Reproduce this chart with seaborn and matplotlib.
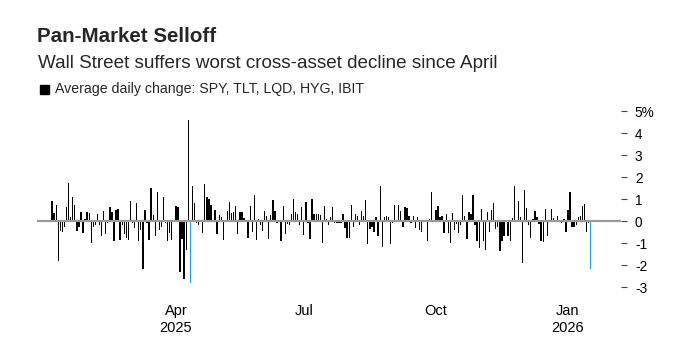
import numpy as np
import pandas as pd
import matplotlib
matplotlib.use('Agg')
import matplotlib.pyplot as plt
import seaborn as sns
from matplotlib.patches import Rectangle

# average daily % change of SPY, TLT, LQD, HYG, IBIT, one list per month (trading days)
jan25 = [0.9, 0.35, 0.75, -1.8, -0.45, -0.5, -0.25, 0.65, 1.75, 0.2, 1.1, 0.75, -0.45, -0.25, 0.4,
         -0.55, 0.1, 0.4, 0.35, -1.0]
feb25 = [-0.25, -0.2, 0.3, -0.2, -0.7, 0.45, -0.6, -0.1, 0.65, 0.4, -0.9, 0.5, 0.55, -0.85, -0.2,
         -0.6, -0.75, -0.85, 0.9]
mar25 = [-0.1, -0.3, 0.8, -0.9, -0.4, -2.2, 0.5, -0.1, -0.85, 1.5, 0.27, -0.7, 1.3, -0.4, -0.25,
         1.1, -0.07, -0.9, -0.55, -0.85, 0.05]
apr25 = [0.7, 0.65, -2.3, -0.8, -2.65, -1.3, 4.6, -2.8, 1.6, 0.8, -0.1, -0.2, 0.05, -0.55, 1.7,
         1.1, 1.0, 0.75, 0.05, 0.5, -0.6]
may25 = [0.27, 0.2, -0.85, 0.05, 0.45, 0.85, 0.35, 0.4, 0.67, -0.6, 0.4, 0.4, 0.15, 0.02, -0.75,
         0.7, -0.5, 1.2, -0.85, 0.07, -0.2]
jun25 = [-0.45, 0.45, 0.22, -0.8, 0.27, 0.95, 0.45, -0.07, 0.05, -0.9, 0.67, -0.6, -0.13, -0.18,
         0.3, 1.0, 0.4, 0.3, -0.2, 0.63]
jul25 = [-0.65, 0.85, -0.1, -0.8, 1.0, 0.3, 0.3, 0.3, 0.27, -1.0, 0.67, 0.1, -0.2, 0.2, 0.63,
         -0.1, -0.07, -0.1, -0.07, 0.3, -0.33, -0.75]
aug25 = [-0.75, 0.75, -0.25, 0.3, 0.25, -0.2, 0.45, 0.22, 0.95, -1.05, -0.37, -0.25, -0.52, 0.16,
         -0.66, 1.57, -1.2, 0.16, 0.22, 0.2, -1.05]
sep25 = [-0.1, 0.72, 0.05, 0.72, 0.45, -0.28, 0.63, 0.6, 0.22, -0.07, 0.22, -0.33, 0.16, -0.43,
         -0.52, 0.02, 0.05, -0.93, 0.1, 1.3, 0.02]
oct25 = [0.5, 0.67, 0.16, 0.25, -0.55, 0.3, -0.55, -1.0, 0.35, -0.4, -0.13, -0.55, -0.18, 1.16,
         0.22, -0.82, 0.4, 0.3, 1.16, -0.18, -0.93, -1.22, 0.54]
nov25 = [-0.93, -1.3, 0.42, -0.48, 0.5, 0.8, -0.36, -0.25, -1.37, -0.93, -0.7, 0.05, -0.7, -0.93,
         0.15, 1.6, -0.03, 0.9, 0.2]
dec25 = [-1.93, 1.39, 0.57, -0.2, -0.78, 0.1, 0.45, 0.2, -0.13, -0.93, -0.97, 0.54, -0.7, 0.05,
         0.54, 0.12, -0.03, 0.22, 0.0, -0.1, 0.1, -0.48]
jan26 = [0.5, 1.3, -0.28, -0.28, -0.18, 0.2, 0.22, 0.67, 0.76, -0.52, -0.1, -2.19]

market_holidays = ['2025-01-01', '2025-01-09', '2025-01-20', '2025-02-17', '2025-04-18',
                   '2025-05-26', '2025-06-19', '2025-07-04', '2025-09-01', '2025-11-27',
                   '2025-12-25', '2026-01-01', '2026-01-19']
highlight_days = ['2025-04-10', '2026-01-20']

tick_months = ['2025-04', '2025-07', '2025-10', '2026-01']
tick_labels = ['Apr\n2025', 'Jul', 'Oct', 'Jan\n2026']
ytick_vals = [-3, -2, -1, 0, 1, 2, 3, 4, 5]
ytick_labels = ['-3', '-2', '-1', '0', '1', '2', '3', '4', '5%']

values = (jan25 + feb25 + mar25 + apr25 + may25 + jun25 + jul25 + aug25 + sep25 + oct25
          + nov25 + dec25 + jan26)
dates = pd.bdate_range('2025-01-02', '2026-01-20', freq='C', holidays=market_holidays)

df = pd.DataFrame({'date': dates, 'change': values})
df['day'] = np.arange(len(df))
df['kind'] = np.where(df['date'].isin(pd.to_datetime(highlight_days)), 'hl', 'normal')

sns.set_style('white')
plt.rcParams['font.family'] = ['Liberation Sans', 'DejaVu Sans']

fig = plt.figure(figsize=(6.84, 3.61), dpi=100)
ax = fig.add_axes([0.0541, 0.1958, 0.8538, 0.5089])

sns.barplot(data=df, x='day', y='change', hue='kind',
            palette={'normal': 'black', 'hl': '#16a2e8'},
            dodge=False, width=0.65, saturation=1, errorbar=None, legend=False, ax=ax,
            linewidth=0, edgecolor='none')
ax.axhline(0, color='#9a9a9a', lw=1.6, zorder=3)

ax.set_xlim(-7.3, 275.7)
ax.set_ylim(-3.15, 5.2)
sns.despine(ax=ax, left=True, bottom=True, right=True, top=True)

ax.yaxis.tick_right()
ax.set_yticks(ytick_vals)
ax.set_yticklabels(ytick_labels)

tick_pos = [df.loc[df['date'].dt.strftime('%Y-%m') == m, 'day'].iloc[0] for m in tick_months]
ax.set_xticks(tick_pos)
ax.set_xticklabels(tick_labels, linespacing=1.25)
ax.set_xlabel('')
ax.set_ylabel('')

ax.tick_params(axis='x', length=3, width=0.8, color='#8a8a8a', pad=7, labelsize=10.5,
               labelcolor='black')
ax.tick_params(axis='y', length=4, width=0.8, color='#444444', pad=6, labelsize=9.8,
               labelcolor='black')

fig.text(37 / 684, 1 - 41.7 / 361, 'Pan-Market Selloff', fontsize=14.8, fontweight='bold',
         va='baseline', ha='left')
fig.text(37.5 / 684, 1 - 68.5 / 361, 'Wall Street suffers worst cross-asset decline since April',
         fontsize=13.6, va='baseline', ha='left')
fig.patches.append(Rectangle((40 / 684, 1 - 94 / 361), 9 / 684, 9 / 361,
                             transform=fig.transFigure, color='black'))
fig.text(55 / 684, 1 - 93 / 361, 'Average daily change: SPY, TLT, LQD, HYG, IBIT',
         fontsize=10.2, va='baseline', ha='left')

fig.savefig('out.png', dpi=100, facecolor='white')
